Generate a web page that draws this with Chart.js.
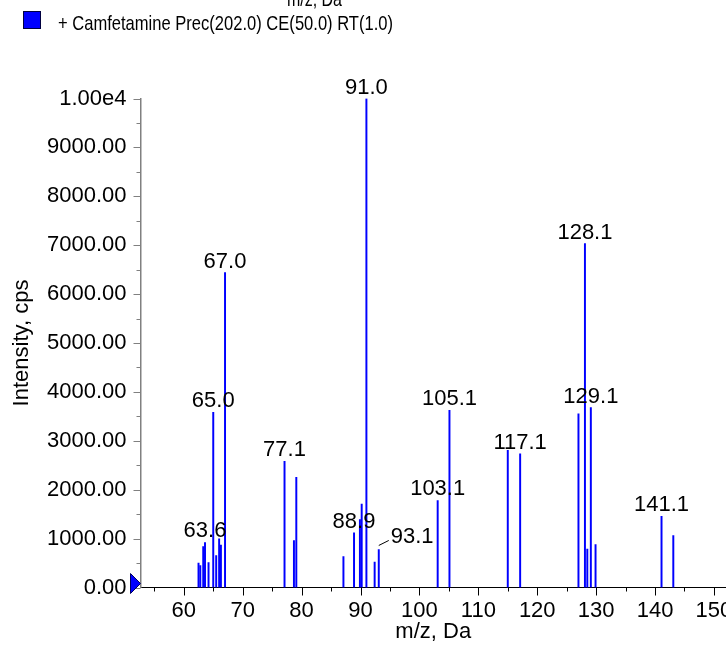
<!DOCTYPE html>
<html>
<head>
<meta charset="utf-8">
<script src="https://cdn.jsdelivr.net/npm/chart.js@4"></script>
<style>
  html, body { margin: 0; padding: 0; background: #fff; }
  #wrap { width: 726px; height: 645px; overflow: hidden; position: relative; }
  canvas { display: block; }
</style>
</head>
<body>
<div id="wrap"><canvas id="spec" width="760" height="645"></canvas></div>
<script>
// peaks
const mz = [62.5, 62.8, 63.3, 63.6, 64.2, 65.0, 65.5, 66.0, 66.3, 67.0, 77.1, 78.7, 79.1,
  87.1, 88.9, 89.9, 90.2, 91.0, 92.4, 93.1, 103.1, 105.1, 115.0, 117.1,
  127.0, 128.1, 128.5, 129.1, 129.9, 141.1, 143.1];
const intensity = [497, 450, 839, 921, 512, 3581, 655, 997, 866, 6440, 2578, 962, 2251,
  634, 1119, 1391, 1705, 10000, 518, 778, 1780, 3622, 2803, 2735,
  3554, 7033, 784, 3677, 880, 1453, 1064];
const labelMz = [91.0, 67.0, 65.0, 128.1, 129.1, 105.1, 117.1, 77.1, 103.1, 141.1, 88.9, 63.6, 93.1];
const leaderLabels = [93.1];
const xTickLabels = [60, 70, 80, 90, 100, 110, 120, 130, 140, 150];
const seriesName = '+ Camfetamine Prec(202.0) CE(50.0) RT(1.0)';
const xTitle = 'm/z, Da';
const yTitle = 'Intensity, cps';

const font = 'Liberation Sans, Arial, sans-serif';
const blue = '#0000ff';

let points = [];
for (let i = 0; i < mz.length; i++) {
  points.push({ x: mz[i], y: intensity[i] });
}

function peakTop(chart, m) {
  let best = 0;
  for (let i = 0; i < mz.length; i++) {
    if (Math.abs(mz[i] - m) < Math.abs(mz[best] - m)) best = i;
  }
  return { x: chart.scales.x.getPixelForValue(mz[best]), y: chart.scales.y.getPixelForValue(intensity[best]) };
}

function squeezedText(ctx, text, x, y, width) {
  ctx.save();
  ctx.translate(x, y);
  let w = ctx.measureText(text).width;
  ctx.scale(width / w, 1);
  ctx.fillText(text, 0, 0);
  ctx.restore();
}

const extras = {
  id: 'extras',
  afterDraw(chart) {
    const ctx = chart.ctx;
    const xs = chart.scales.x;
    const ys = chart.scales.y;
    const area = chart.chartArea;
    ctx.save();

    // tick marks
    ctx.lineWidth = 1;
    ctx.strokeStyle = '#808080';
    ys.ticks.forEach(t => {
      let py = Math.round(ys.getPixelForValue(t.value)) + 0.5;
      let len = t.value % 1000 === 0 ? 7 : 4;
      ctx.beginPath();
      ctx.moveTo(area.left - len, py);
      ctx.lineTo(area.left, py);
      ctx.stroke();
    });
    ctx.strokeStyle = '#000';
    xs.ticks.forEach(t => {
      let px = Math.round(xs.getPixelForValue(t.value)) + 0.5;
      let len = t.value % 10 === 0 ? 8 : 4;
      ctx.beginPath();
      ctx.moveTo(px, area.bottom);
      ctx.lineTo(px, area.bottom + len);
      ctx.stroke();
    });

    // origin marker
    let y0 = ys.getPixelForValue(0) - 4;
    ctx.fillStyle = blue;
    ctx.strokeStyle = '#000060';
    ctx.beginPath();
    ctx.moveTo(area.left - 10, y0 - 10);
    ctx.lineTo(area.left, y0);
    ctx.lineTo(area.left - 10, y0 + 10);
    ctx.closePath();
    ctx.fill();
    ctx.stroke();

    // peak labels
    ctx.fillStyle = '#000';
    ctx.font = '22px ' + font;
    ctx.textBaseline = 'alphabetic';
    labelMz.forEach(m => {
      let p = peakTop(chart, m);
      let txt = m.toFixed(1);
      if (leaderLabels.includes(m)) {
        ctx.strokeStyle = '#000';
        ctx.beginPath();
        ctx.moveTo(p.x, p.y - 4);
        ctx.lineTo(p.x + 10, p.y - 9);
        ctx.stroke();
        ctx.textAlign = 'left';
        ctx.fillText(txt, p.x + 12, p.y - 6);
      } else {
        ctx.textAlign = 'center';
        ctx.fillText(txt, p.x, p.y - 5);
      }
    });

    // axis titles
    ctx.textAlign = 'center';
    ctx.textBaseline = 'middle';
    ctx.fillText(xTitle, (area.left + 726) / 2, 632);
    ctx.save();
    ctx.translate(22, (area.top + area.bottom) / 2);
    ctx.rotate(-Math.PI / 2);
    ctx.fillText(yTitle, 0, 0);
    ctx.restore();

    // clipped title at the top and the legend
    ctx.font = '21px ' + font;
    ctx.textAlign = 'left';
    ctx.textBaseline = 'alphabetic';
    squeezedText(ctx, xTitle, 287, 6, 55);
    squeezedText(ctx, seriesName, 58, 30, 335);
    ctx.fillStyle = blue;
    ctx.fillRect(23.5, 11.5, 17, 17);
    ctx.strokeStyle = '#000040';
    ctx.strokeRect(23.5, 11.5, 17, 17);
    ctx.restore();
  }
};

new Chart(document.getElementById('spec'), {
  type: 'bar',
  data: {
    datasets: [{
      label: seriesName,
      data: points,
      backgroundColor: blue,
      borderWidth: 0,
      barThickness: 1.3
    }]
  },
  options: {
    responsive: false,
    animation: false,
    devicePixelRatio: 1,
    layout: { padding: { top: 98.5, right: 16.6, left: 0, bottom: 0 } },
    plugins: {
      legend: { display: false },
      tooltip: { enabled: false }
    },
    scales: {
      x: {
        type: 'linear',
        offset: false,
        min: 52.65,
        max: 155,
        grid: { display: false, drawTicks: false, offset: false },
        border: { display: true, color: '#000', width: 1 },
        afterFit: (s) => { s.height = 57.5; },
        ticks: {
          stepSize: 5,
          includeBounds: false,
          autoSkip: false,
          maxRotation: 0,
          padding: 10,
          color: '#000',
          font: { family: font, size: 22 },
          callback: (v) => xTickLabels.includes(v) ? String(v) : ''
        }
      },
      y: {
        min: 0,
        max: 10000,
        grid: { display: false, drawTicks: false },
        border: { display: true, color: '#808080', width: 1.5 },
        afterFit: (s) => { s.width = 140.5; },
        ticks: {
          stepSize: 500,
          autoSkip: false,
          padding: 14,
          color: '#000',
          font: { family: font, size: 22 },
          callback: (v) => {
            if (v % 1000 !== 0) return '';
            return v === 10000 ? '1.00e4' : v.toFixed(2);
          }
        }
      }
    }
  },
  plugins: [extras]
});
</script>
</body>
</html>
